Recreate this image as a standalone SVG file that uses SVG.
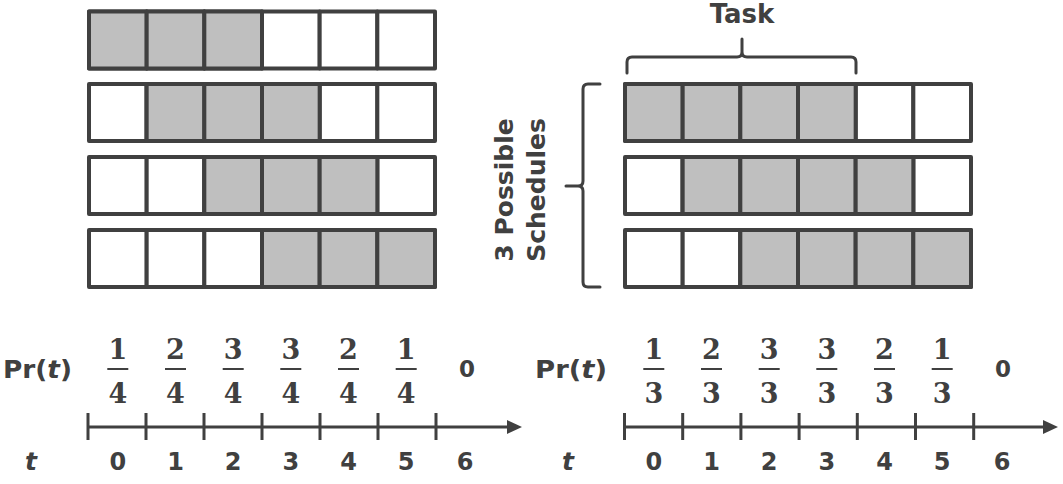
<svg xmlns="http://www.w3.org/2000/svg" width="1063" height="484" viewBox="0 0 1063 484">
<style>
.c{fill:#fff;stroke:#404040;stroke-width:4;stroke-linejoin:round}
.f{fill:#bfbfbf}
.s{font-family:"DejaVu Sans","Verdana",sans-serif;font-weight:bold;fill:#404040}
.m{font-family:"DejaVu Serif","Liberation Serif",serif;font-weight:bold;fill:#404040;font-size:27px;text-anchor:middle}
.bar{stroke:#404040;stroke-width:2}
.ax{stroke:#404040;stroke-width:3;fill:none}
.br{stroke:#404040;stroke-width:3;fill:none;stroke-linecap:round}
.n{font-size:24px;text-anchor:middle}
</style>
<defs>
<g id="row">
<rect class="c" x="0" y="0" width="57.67" height="57"/>
<rect class="c" x="57.67" y="0" width="57.67" height="57"/>
<rect class="c" x="115.33" y="0" width="57.67" height="57"/>
<rect class="c" x="173" y="0" width="57.67" height="57"/>
<rect class="c" x="230.67" y="0" width="57.67" height="57"/>
<rect class="c" x="288.33" y="0" width="57.67" height="57"/>
</g>
</defs>

<g id="left-schedules">
<g id="left-row-1">
<use href="#row" x="89" y="11.5"/>
<rect class="c f" x="89" y="11.5" width="57.67" height="57"/>
<rect class="c f" x="146.67" y="11.5" width="57.67" height="57"/>
<rect class="c f" x="204.33" y="11.5" width="57.67" height="57"/>
</g>
<g id="left-row-2">
<use href="#row" x="89" y="84"/>
<rect class="c f" x="146.67" y="84" width="57.67" height="57"/>
<rect class="c f" x="204.33" y="84" width="57.67" height="57"/>
<rect class="c f" x="262" y="84" width="57.67" height="57"/>
</g>
<g id="left-row-3">
<use href="#row" x="89" y="157"/>
<rect class="c f" x="204.33" y="157" width="57.67" height="57"/>
<rect class="c f" x="262" y="157" width="57.67" height="57"/>
<rect class="c f" x="319.67" y="157" width="57.67" height="57"/>
</g>
<g id="left-row-4">
<use href="#row" x="89" y="230"/>
<rect class="c f" x="262" y="230" width="57.67" height="57"/>
<rect class="c f" x="319.67" y="230" width="57.67" height="57"/>
<rect class="c f" x="377.33" y="230" width="57.67" height="57"/>
</g>
</g>

<g id="right-schedules">
<g id="right-row-1">
<use href="#row" x="625" y="84"/>
<rect class="c f" x="625" y="84" width="57.67" height="57"/>
<rect class="c f" x="682.67" y="84" width="57.67" height="57"/>
<rect class="c f" x="740.33" y="84" width="57.67" height="57"/>
<rect class="c f" x="798" y="84" width="57.67" height="57"/>
</g>
<g id="right-row-2">
<use href="#row" x="625" y="157"/>
<rect class="c f" x="682.67" y="157" width="57.67" height="57"/>
<rect class="c f" x="740.33" y="157" width="57.67" height="57"/>
<rect class="c f" x="798" y="157" width="57.67" height="57"/>
<rect class="c f" x="855.67" y="157" width="57.67" height="57"/>
</g>
<g id="right-row-3">
<use href="#row" x="625" y="230"/>
<rect class="c f" x="740.33" y="230" width="57.67" height="57"/>
<rect class="c f" x="798" y="230" width="57.67" height="57"/>
<rect class="c f" x="855.67" y="230" width="57.67" height="57"/>
<rect class="c f" x="913.33" y="230" width="57.67" height="57"/>
</g>
</g>

<g id="task-brace">
<path class="br" d="M627,73 L627,62 Q627,57 632,57 L737,57 Q742,57 742,52 L742,39 M742,52 Q742,57 747,57 L851,57 Q856,57 856,62 L856,73"/>
<text class="s" x="742" y="23" font-size="26" text-anchor="middle">Task</text>
</g>

<g id="schedules-brace">
<path class="br" d="M600,84 L588,84 Q583,84 583,89 L583,181 Q583,186 578,186 L566,186 M578,186 Q583,186 583,191 L583,282 Q583,287 588,287 L600,287"/>
<text class="s" font-size="25" text-anchor="middle" transform="translate(513,190) rotate(-90)">3 Possible</text>
<text class="s" font-size="25" text-anchor="middle" transform="translate(545,190) rotate(-90)">Schedules</text>
</g>

<g id="connectors">
<line class="ax" x1="88" y1="427" x2="510" y2="427"/>
<polygon fill="#404040" points="507,420 522,427 507,434"/>
<path class="ax" d="M88,413V440 M146,413V440 M204,413V440 M262,413V440 M320,413V440 M378,413V440 M436,413V440"/>
<line class="ax" x1="624" y1="427" x2="1046" y2="427"/>
<polygon fill="#404040" points="1043,420 1058,427 1043,434"/>
<path class="ax" d="M624.5,413V440 M682.7,413V440 M740.9,413V440 M799.1,413V440 M857.3,413V440 M915.5,413V440 M973.7,413V440"/>
</g>

<g id="left-probabilities">
<text class="s" x="3" y="378" font-size="24" textLength="69" lengthAdjust="spacingAndGlyphs">Pr(<tspan font-style="italic">t</tspan>)</text>
<g class="m">
<text x="117.8" y="359">1</text><text x="117.8" y="403">4</text>
<text x="175.5" y="359">2</text><text x="175.5" y="403">4</text>
<text x="233.2" y="359">3</text><text x="233.2" y="403">4</text>
<text x="290.8" y="359">3</text><text x="290.8" y="403">4</text>
<text x="348.5" y="359">2</text><text x="348.5" y="403">4</text>
<text x="406.2" y="359">1</text><text x="406.2" y="403">4</text>
</g>
<path class="bar" d="M107.3,369h21 M165,369h21 M222.7,369h21 M280.3,369h21 M338,369h21 M395.7,369h21"/>
<text class="s" x="467" y="377" font-size="23" text-anchor="middle">0</text>
</g>

<g id="left-times">
<text class="s" x="31" y="470" font-size="25" font-style="italic" text-anchor="middle">t</text>
<g class="s n">
<text x="117.8" y="470">0</text>
<text x="175.5" y="470">1</text>
<text x="233.2" y="470">2</text>
<text x="290.8" y="470">3</text>
<text x="348.5" y="470">4</text>
<text x="406.2" y="470">5</text>
<text x="465" y="470">6</text>
</g>
</g>

<g id="right-probabilities">
<text class="s" x="535" y="378" font-size="24" textLength="72" lengthAdjust="spacingAndGlyphs">Pr(<tspan font-style="italic">t</tspan>)</text>
<g class="m">
<text x="653.8" y="359">1</text><text x="653.8" y="403">3</text>
<text x="711.5" y="359">2</text><text x="711.5" y="403">3</text>
<text x="769.2" y="359">3</text><text x="769.2" y="403">3</text>
<text x="826.8" y="359">3</text><text x="826.8" y="403">3</text>
<text x="884.5" y="359">2</text><text x="884.5" y="403">3</text>
<text x="942.2" y="359">1</text><text x="942.2" y="403">3</text>
</g>
<path class="bar" d="M643.3,369h21 M701,369h21 M758.7,369h21 M816.3,369h21 M874,369h21 M931.7,369h21"/>
<text class="s" x="1003" y="377" font-size="23" text-anchor="middle">0</text>
</g>

<g id="right-times">
<text class="s" x="568" y="470" font-size="25" font-style="italic" text-anchor="middle">t</text>
<g class="s n">
<text x="653.8" y="470">0</text>
<text x="711.5" y="470">1</text>
<text x="769.2" y="470">2</text>
<text x="826.8" y="470">3</text>
<text x="884.5" y="470">4</text>
<text x="942.2" y="470">5</text>
<text x="1002" y="470">6</text>
</g>
</g>
</svg>
